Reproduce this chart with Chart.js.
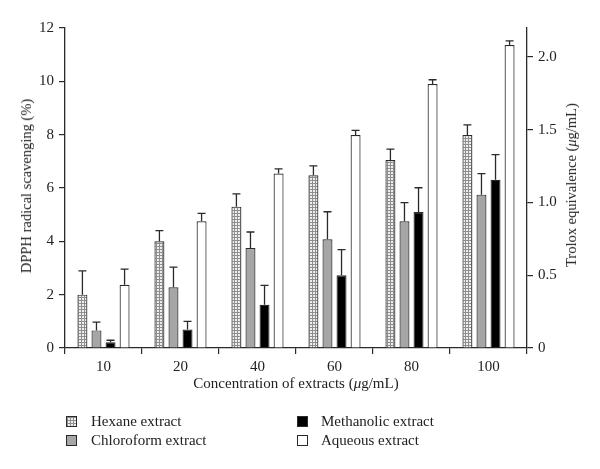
<!DOCTYPE html>
<html><head><meta charset="utf-8">
<script src="https://cdn.jsdelivr.net/npm/chart.js@4/dist/chart.umd.min.js"></script>
<style>
body{margin:0;background:#fff;}
#wrap{position:relative;width:600px;height:469px;overflow:hidden;}
canvas{position:absolute;left:0;top:0;}
.t{position:absolute;font-family:"Liberation Serif","DejaVu Serif",serif;font-size:15px;color:#222;white-space:nowrap;line-height:16px;}
.rot{transform:translate(-50%,-50%) rotate(-90deg);font-size:14.5px;}
.ctr{transform:translate(-50%,-50%);}
.box{position:absolute;width:9px;height:9px;border:1px solid #2a2a2a;}
</style></head><body>
<div id="wrap">
<canvas id="c" width="600" height="469"></canvas>
<div class="t rot" style="left:26px;top:186px;">DPPH radical scavenging (%)</div>
<div class="t rot" style="left:571px;top:185px;">Trolox equivalence (<i>μ</i>g/mL)</div>
<div class="t ctr" style="left:296px;top:383px;">Concentration of extracts (<i>μ</i>g/mL)</div>
<div class="box" style="left:66px;top:416px;background-color:#eeeeee;background-image:linear-gradient(#8e8e8e 1px,transparent 1px),linear-gradient(90deg,#8e8e8e 1px,transparent 1px);background-size:3px 3px;"></div>
<div class="t" style="left:91px;top:413px;">Hexane extract</div>
<div class="box" style="left:66px;top:435px;background:#a6a6a6;"></div>
<div class="t" style="left:91px;top:432px;">Chloroform extract</div>
<div class="box" style="left:297px;top:416px;background:#000;"></div>
<div class="t" style="left:321px;top:413px;">Methanolic extract</div>
<div class="box" style="left:297px;top:435px;background:#fff;"></div>
<div class="t" style="left:321px;top:432px;">Aqueous extract</div>
</div>
<script>
const categories = ['10','20','40','60','80','100'];
const hexane        = [2.00, 4.00, 5.30, 6.48, 7.05, 7.99];
const hexaneErr     = [0.89, 0.40, 0.48, 0.35, 0.41, 0.38];
const chloroform    = [0.66, 2.28, 3.75, 4.08, 4.75, 5.75];
const chloroformErr = [0.31, 0.75, 0.60, 1.03, 0.70, 0.79];
const methanolic    = [0.22, 0.69, 1.62, 2.73, 5.10, 6.31];
const methanolicErr = [0.07, 0.31, 0.73, 0.96, 0.91, 0.94];
const aqueous       = [2.37, 4.75, 6.54, 7.99, 9.90, 11.36];
const aqueousErr    = [0.59, 0.30, 0.18, 0.17, 0.16, 0.16];
const rightTicks    = [0, 0.5, 1.0, 1.5, 2.0];

const FONT = '"Liberation Serif","DejaVu Serif",serif';
const INK = '#2a2a2a';

function gridPattern(){
  const c = document.createElement('canvas');
  c.width = 3; c.height = 3;
  const g = c.getContext('2d');
  g.fillStyle = '#eeeeee'; g.fillRect(0,0,3,3);
  g.fillStyle = '#8e8e8e'; g.fillRect(0,0,3,1); g.fillRect(0,0,1,3);
  return g.createPattern(c,'repeat');
}
const ctx = document.getElementById('c').getContext('2d');

const errorBars = {
  id:'errorBars',
  afterDatasetsDraw(chart){
    const c = chart.ctx;
    const y = chart.scales.y;
    c.save();
    c.strokeStyle = INK; c.lineWidth = 1.3;
    chart.data.datasets.forEach((ds,i)=>{
      const meta = chart.getDatasetMeta(i);
      meta.data.forEach((bar,j)=>{
        const top = y.getPixelForValue(ds.data[j] + ds.err[j]);
        c.beginPath();
        c.moveTo(bar.x, bar.y); c.lineTo(bar.x, top);
        c.moveTo(bar.x-4, top); c.lineTo(bar.x+4, top);
        c.stroke();
      });
    });
    c.restore();
  }
};

const common = {borderColor:INK, borderWidth:1.2, yAxisID:'y'};
new Chart(ctx,{
  type:'bar',
  data:{
    labels:categories,
    datasets:[
      {label:'Hexane extract', data:hexane, err:hexaneErr, backgroundColor:gridPattern(), ...common},
      {label:'Chloroform extract', data:chloroform, err:chloroformErr, backgroundColor:'#a6a6a6', ...common},
      {label:'Methanolic extract', data:methanolic, err:methanolicErr, backgroundColor:'#000', ...common},
      {label:'Aqueous extract', data:aqueous, err:aqueousErr, backgroundColor:'#fff', ...common}
    ]
  },
  options:{
    responsive:false, animation:false,
    categoryPercentage:0.73, barPercentage:0.71,
    layout:{padding:{left:0,right:0,top:28,bottom:0}},
    plugins:{legend:{display:false}, tooltip:{enabled:false}},
    scales:{
      x:{
        offset:true,
        grid:{display:true, offset:true, drawOnChartArea:false, tickLength:6, color:INK, lineWidth:1.2},
        border:{color:INK, width:1.3},
        ticks:{color:'#222', font:{family:FONT,size:15}, padding:4},
        afterFit(s){ s.height = 121; }
      },
      y:{
        position:'left', min:0, max:12,
        grid:{drawOnChartArea:false, tickLength:6, color:INK, lineWidth:1.2},
        border:{color:INK, width:1.3},
        ticks:{stepSize:2, color:'#222', font:{family:FONT,size:15}, padding:5},
        afterFit(s){ s.width = 65; }
      },
      y1:{
        position:'right', min:0, max:2.2,
        grid:{drawOnChartArea:false, tickLength:6, color:INK, lineWidth:1.2},
        border:{color:INK, width:1.3},
        afterBuildTicks(s){ s.ticks = rightTicks.map(v=>({value:v})); },
        ticks:{color:'#222', font:{family:FONT,size:15}, padding:5,
          callback:(v)=> v===0 ? '0' : Number(v).toFixed(1)},
        afterFit(s){ s.width = 73; }
      }
    }
  },
  plugins:[errorBars]
});
</script>
</body></html>
